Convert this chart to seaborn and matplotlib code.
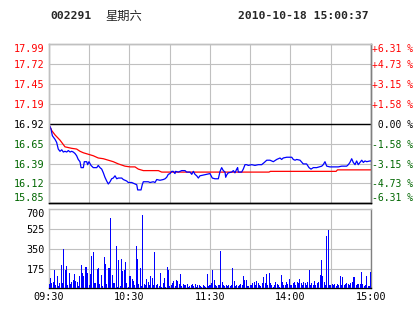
import numpy as np
import pandas as pd
import matplotlib
matplotlib.use("Agg")
import matplotlib.pyplot as plt
import seaborn as sns

# ---------------- data ----------------
stock_code = "002291"
weekday = "星期六"
timestamp = "2010-10-18 15:00:37"
prev_close = 16.92
price_labels = ["17.99", "17.72", "17.45", "17.19", "16.92", "16.65", "16.39", "16.12", "15.85"]
pct_labels = ["+6.31 %", "+4.73 %", "+3.15 %", "+1.58 %", " 0.00 %", "-1.58 %", "-3.15 %", "-4.73 %", "-6.31 %"]
vol_ticks = [700, 525, 350, 175]
time_labels = ["09:30", "10:30", "11:30", "14:00", "15:00"]
time_label_minutes = [0, 60, 120, 180, 240]

price_minutes = [0, 1.5, 2.5, 4.5, 5.7, 6.9, 8.2, 9.5, 10.7, 11.9,
                 13.2, 14.4, 15.7, 16.9, 18.1, 19.4, 20.6, 21.8, 23.1, 23.9,
                 25.6, 26.3, 28.1, 28.8, 29.8, 31.3, 33, 35.6, 36.7, 38,
                 39.3, 40.5, 41.7, 43, 44.2, 45.5, 46.7, 47.9, 49.2, 50.5,
                 51.7, 54.2, 55.4, 57.9, 59.1, 61.6, 65.4, 66.1, 68.6, 69.5,
                 70.3, 74, 75.3, 77.7, 79, 80.3, 82.7, 85.2, 86.5, 87.7,
                 88.9, 90.2, 91.5, 92.6, 93.9, 94.4, 96.4, 98.9, 101.4, 102.6,
                 105.1, 106.4, 107.6, 108.8, 110.1, 111.3, 112.5, 115, 117.5, 120,
                 121.7, 123.7, 126.2, 127.5, 128.7, 129.9, 131.2, 131.7, 132.4, 133.6,
                 136.2, 137.4, 138.6, 139.9, 140.6, 141.1, 143.6, 144.8, 146.1, 147.4,
                 148.5, 151.1, 153.5, 156, 158.5, 160.5, 162.3, 164.7, 167.2, 169.7,
                 172.2, 173.4, 174.6, 177.2, 180.9, 182.1, 183.4, 184.6, 187.1, 189.5,
                 192, 193.8, 195.3, 197, 199.5, 203.3, 204.4, 205.7, 207, 209.4,
                 215.6, 218.2, 221.9, 223.1, 224.3, 225.6, 226.8, 228.1, 229.3, 230.5,
                 231.8, 233.1, 234.3, 235.5, 236.8, 239.3, 240]
price_values = [16.91, 16.85, 16.76, 16.71, 16.67, 16.58, 16.55, 16.57, 16.54, 16.55,
                16.54, 16.56, 16.54, 16.55, 16.54, 16.52, 16.49, 16.44, 16.41, 16.33,
                16.33, 16.41, 16.41, 16.37, 16.41, 16.36, 16.33, 16.33, 16.36, 16.33,
                16.31, 16.26, 16.20, 16.15, 16.11, 16.14, 16.18, 16.19, 16.22, 16.18,
                16.19, 16.19, 16.17, 16.15, 16.13, 16.13, 16.10, 16.03, 16.03, 16.10,
                16.14, 16.14, 16.13, 16.14, 16.13, 16.17, 16.16, 16.17, 16.18, 16.20,
                16.24, 16.25, 16.28, 16.28, 16.25, 16.28, 16.27, 16.29, 16.29, 16.27,
                16.27, 16.24, 16.28, 16.24, 16.22, 16.19, 16.22, 16.23, 16.24, 16.25,
                16.19, 16.18, 16.18, 16.28, 16.33, 16.29, 16.27, 16.20, 16.23, 16.26,
                16.27, 16.29, 16.26, 16.31, 16.33, 16.27, 16.27, 16.31, 16.37, 16.37,
                16.36, 16.37, 16.36, 16.37, 16.37, 16.40, 16.43, 16.43, 16.41, 16.44,
                16.46, 16.44, 16.46, 16.47, 16.47, 16.44, 16.43, 16.44, 16.43, 16.38,
                16.38, 16.33, 16.31, 16.33, 16.33, 16.35, 16.37, 16.41, 16.35, 16.34,
                16.34, 16.35, 16.35, 16.37, 16.40, 16.45, 16.40, 16.37, 16.42, 16.37,
                16.40, 16.43, 16.40, 16.42, 16.41, 16.42, 16.42]

avg_minutes = [0, 2, 4.5, 8.2, 10.7, 11.9, 14.4, 16.9, 20.6, 23.1, 25.6, 29.3, 33, 36.7,
               40.5, 44.2, 47.9, 51.7, 56.6, 60.4, 64.1, 66.6, 70.3, 81.5, 84, 164, 165,
               214, 215, 240]
avg_values = [16.91, 16.83, 16.77, 16.70, 16.64, 16.61, 16.60, 16.59, 16.58, 16.55, 16.53,
              16.51, 16.49, 16.46, 16.45, 16.43, 16.41, 16.38, 16.35, 16.34, 16.34, 16.31,
              16.29, 16.29, 16.27, 16.27, 16.28, 16.28, 16.30, 16.30]

volume_am = [35, 89, 45, 55, 162, 30, 109, 20, 50, 207,
             45, 349, 162, 198, 30, 133, 40, 55, 75, 127,
             65, 55, 20, 110, 207, 140, 110, 187, 187, 140,
             30, 125, 287, 322, 45, 45, 170, 180, 40, 120,
             20, 278, 216, 40, 180, 180, 626, 120, 45, 45,
             375, 15, 251, 20, 260, 155, 162, 233, 45, 15,
             109, 109, 85, 65, 30, 375, 260, 40, 180, 20,
             650, 40, 30, 83, 60, 30, 109, 92, 30, 322,
             30, 40, 20, 133, 15, 45, 92, 15, 189, 162,
             20, 30, 45, 65, 20, 70, 62, 35, 127, 20,
             35, 30, 30, 40, 15, 20, 30, 40, 20, 35,
             15, 25, 30, 20, 15, 30, 20, 15, 127, 20,
             30]
volume_pm = [44, 162, 74, 25, 20, 30, 30, 330, 59, 30,
             20, 30, 20, 30, 20, 30, 180, 68, 20, 30,
             20, 30, 40, 30, 109, 74, 74, 20, 20, 30,
             30, 45, 59, 30, 65, 45, 30, 20, 45, 97,
             45, 127, 30, 136, 45, 30, 10, 30, 59, 40,
             30, 10, 118, 59, 30, 30, 59, 40, 80, 30,
             30, 50, 59, 30, 59, 45, 80, 50, 30, 59,
             45, 30, 59, 162, 30, 45, 30, 65, 30, 45,
             59, 118, 251, 109, 59, 30, 463, 517, 30, 30,
             40, 30, 40, 20, 40, 30, 109, 30, 97, 30,
             40, 45, 40, 30, 45, 59, 97, 103, 30, 40,
             40, 40, 147, 40, 20, 30, 109, 20, 20, 147]

# ---------------- style ----------------
sns.set_style("white")
plt.rcParams["font.family"] = ["DejaVu Sans Mono", "Noto Sans CJK SC"]

RED = "#ff0000"
GREEN = "#006600"
GRID = "#c0c0c0"
FS = 7.3

W, H = 414, 314
fig = plt.figure(figsize=(W / 100, H / 100), dpi=100)


def rect(l, t, r, b):
    return [l / W, 1 - b / H, (r - l) / W, (b - t) / H]


axp = fig.add_axes(rect(49, 44.3, 371, 203.3))
axv = fig.add_axes(rect(49, 209.3, 371, 288.3))

price_df = pd.DataFrame({"minute": price_minutes, "price": price_values})
avg_df = pd.DataFrame({"minute": avg_minutes, "avg": avg_values})
vol_df = pd.DataFrame({"minute": np.arange(len(volume_am) + len(volume_pm)),
                       "volume": volume_am + volume_pm})

lo, hi = float(price_labels[-1]), float(price_labels[0])
ypos = np.linspace(hi, lo, len(price_labels))

# ---- price panel ----
axp.axhline(prev_close, color="black", lw=1.0, zorder=2)
sns.lineplot(data=avg_df, x="minute", y="avg", color=RED, lw=0.9, ax=axp, zorder=3)
sns.lineplot(data=price_df, x="minute", y="price", color="#0000ff", lw=0.9, ax=axp, zorder=4)
axp.set_xlim(0, 240)
axp.set_ylim(lo, hi)
axp.set_xticks(np.arange(0, 241, 30))
axp.set_xticklabels([])
axp.set_yticks(ypos)
axp.set_yticklabels(price_labels)
axp.set_xlabel("")
axp.set_ylabel("")
axp.grid(True, color=GRID, lw=0.8)
axp.tick_params(length=0, labelsize=FS, pad=3)
for i, t in enumerate(axp.get_yticklabels()):
    t.set_color(RED if i < 4 else ("black" if i == 4 else GREEN))
labs = axp.get_yticklabels()
labs[0].set_verticalalignment("top")
labs[-1].set_verticalalignment("bottom")

axr = axp.twinx()
axr.set_ylim(lo, hi)
axr.set_yticks(ypos)
axr.set_yticklabels(pct_labels)
axr.tick_params(length=0, labelsize=7.0, pad=0.6)
for i, t in enumerate(axr.get_yticklabels()):
    t.set_color(RED if i < 4 else ("black" if i == 4 else GREEN))
rl = axr.get_yticklabels()
rl[0].set_verticalalignment("top")
rl[-1].set_verticalalignment("bottom")
axr.grid(False)

for ax in (axp, axr):
    ax.spines["left"].set_color(GRID)
    ax.spines["top"].set_color(GRID)
    ax.spines["right"].set_color("#808080")
    ax.spines["bottom"].set_color("black")
    for s in ax.spines.values():
        s.set_linewidth(1.0)

# ---- volume panel ----
sns.barplot(data=vol_df, x="minute", y="volume", native_scale=True, color="#0000ff",
            saturation=1, width=0.75, errorbar=None, linewidth=0, ax=axv, zorder=3)
for p in axv.patches:
    p.set_antialiased(False)
axv.set_xlim(0, 240)
axv.set_ylim(0, 700)
axv.set_yticks(vol_ticks)
axv.set_yticklabels([str(v) for v in vol_ticks])
axv.set_xticks(np.arange(0, 241, 30))
lab_map = dict(zip(time_label_minutes, time_labels))
axv.set_xticklabels([lab_map.get(m, "") for m in range(0, 241, 30)])
axv.set_xlabel("")
axv.set_ylabel("")
axv.grid(True, color=GRID, lw=0.8)
axv.set_axisbelow(True)
axv.tick_params(length=0, labelsize=FS, pad=3, colors="black")
axv.get_yticklabels()[0].set_verticalalignment("top")
axv.spines["left"].set_color(GRID)
axv.spines["top"].set_color(GRID)
axv.spines["right"].set_color("#808080")
axv.spines["bottom"].set_color("black")
for s in axv.spines.values():
    s.set_linewidth(1.0)

# ---- header ----
fig.text(50 / W, 1 - 16 / H, stock_code, ha="left", va="center", fontsize=8.2,
         fontweight="bold", family=["DejaVu Sans Mono"])
fig.text(105 / W, 1 - 16 / H, weekday, ha="left", va="center", fontsize=8.8,
         family=["Noto Sans CJK SC", "DejaVu Sans"])
fig.text(238 / W, 1 - 16 / H, timestamp, ha="left", va="center", fontsize=8.2,
         fontweight="bold", family=["DejaVu Sans Mono"])

fig.savefig("out.png", dpi=100, facecolor="white")
